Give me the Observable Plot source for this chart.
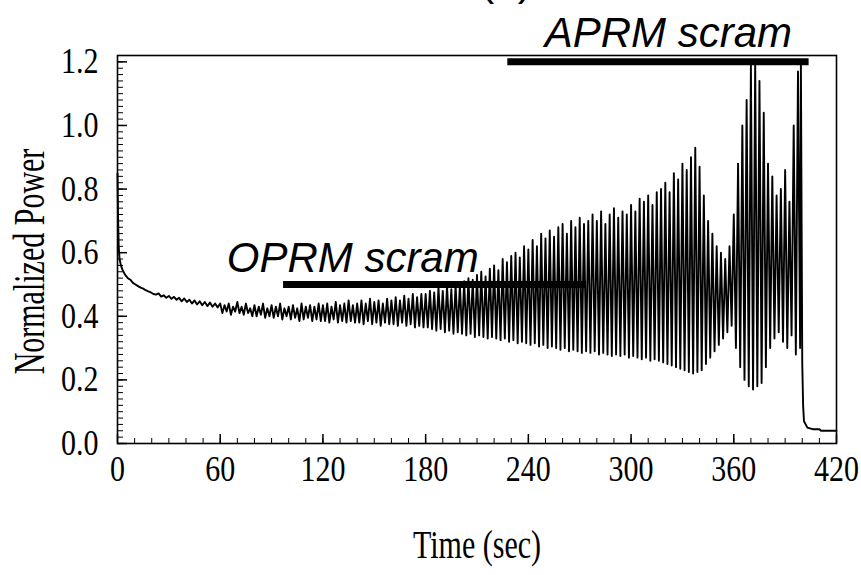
<!DOCTYPE html>
<html>
<head>
<meta charset="utf-8">
<script src="https://cdn.jsdelivr.net/npm/d3@7"></script>
<script src="https://cdn.jsdelivr.net/npm/@observablehq/plot@0.6"></script>
<style>
  html, body { margin: 0; padding: 0; background: #fff; }
  #chart { width: 861px; height: 575px; overflow: hidden; }
</style>
</head>
<body>
<div id="chart"></div>
<script>
// ---- Data ----
// Initial decay (0 - 60 s)
const decayTime = [0, 0.3, 0.7, 1.2, 2, 3, 4.5, 6, 7.5, 9, 10.5, 12, 13.5, 15, 16.5, 18, 19.5, 21, 22.5, 24,
  25.5, 27, 28.5, 30, 31.5, 33, 34.5, 36, 37.5, 39, 40.5, 42, 43.5, 45, 46.5, 48, 49.5, 51, 52.5, 54,
  55.5, 57, 58.5];
const decayPower = [0.85, 0.72, 0.62, 0.58, 0.56, 0.545, 0.53, 0.52, 0.515, 0.505, 0.50, 0.495, 0.49, 0.487,
  0.482, 0.478, 0.475, 0.47, 0.468, 0.472, 0.462, 0.466, 0.458, 0.464, 0.455, 0.461, 0.452, 0.458, 0.447,
  0.456, 0.445, 0.452, 0.44, 0.45, 0.437, 0.447, 0.435, 0.445, 0.432, 0.443, 0.43, 0.44, 0.428];

// Oscillation (60 - 398.75 s), sampled every 1.25 s: alternating crest / trough
const oscStart = 60, oscStep = 1.25;
const oscPower = [
  0.44,0.41,0.435,0.415,0.44,0.405,0.43,0.415,0.445,0.41,0.43,0.405,0.44,0.41,0.425,0.40,
  0.435,0.40,0.43,0.405,0.44,0.395,0.425,0.40,0.435,0.395,0.43,0.40,0.44,0.39,0.425,0.40,
  0.43,0.39,0.435,0.395,0.425,0.385,0.44,0.39,0.43,0.395,0.435,0.385,0.43,0.39,0.44,0.385,
  0.435,0.385,0.44,0.38,0.43,0.39,0.445,0.38,0.435,0.385,0.44,0.38,0.45,0.385,0.435,0.38,
  0.44,0.38,0.45,0.375,0.44,0.385,0.455,0.375,0.445,0.38,0.45,0.37,0.44,0.38,0.455,0.375,
  0.45,0.375,0.46,0.37,0.45,0.38,0.465,0.37,0.455,0.375,0.47,0.365,0.46,0.37,0.47,0.365,
  0.47,0.365,0.48,0.36,0.475,0.355,0.49,0.36,0.48,0.35,0.495,0.355,0.485,0.345,0.50,0.35,
  0.50,0.345,0.51,0.34,0.52,0.345,0.515,0.335,0.53,0.34,0.54,0.335,0.525,0.33,0.55,0.335,
  0.56,0.33,0.545,0.325,0.58,0.33,0.57,0.32,0.59,0.325,0.60,0.315,0.585,0.32,0.62,0.315,
  0.61,0.31,0.64,0.315,0.62,0.305,0.66,0.31,0.645,0.30,0.67,0.305,0.65,0.30,0.68,0.295,
  0.69,0.30,0.66,0.29,0.70,0.295,0.68,0.29,0.71,0.285,0.69,0.29,0.70,0.285,0.72,0.29,
  0.70,0.28,0.73,0.285,0.69,0.28,0.72,0.275,0.74,0.28,0.71,0.275,0.73,0.28,0.72,0.27,
  0.75,0.275,0.73,0.27,0.77,0.265,0.76,0.27,0.78,0.26,0.75,0.265,0.79,0.26,0.80,0.255,
  0.82,0.25,0.79,0.245,0.85,0.24,0.83,0.235,0.88,0.23,0.86,0.225,0.90,0.22,0.93,0.225,
  0.87,0.23,0.78,0.25,0.70,0.27,0.66,0.29,0.62,0.31,0.60,0.33,0.58,0.35,0.62,0.37,
  0.72,0.30,0.88,0.24,1.00,0.20,1.08,0.18,1.19,0.17,1.20,0.18,1.14,0.19,1.04,0.24,
  0.88,0.30,0.84,0.33,0.78,0.35,0.80,0.32,0.86,0.30,0.76,0.34,1.00,0.28,1.17,0.30
];

// Final spike and scram (399 - 420 s)
const tailTime = [399.2, 400, 400.5, 401, 403, 406, 410, 411, 420];
const tailPower = [1.20, 0.25, 0.12, 0.07, 0.05, 0.045, 0.045, 0.04, 0.04];

// Axes
const xTicks = [0, 60, 120, 180, 240, 300, 360, 420];
const yTicks = [0, 0.2, 0.4, 0.6, 0.8, 1.0, 1.2];
const xTitle = "Time (sec)";
const yTitle = "Normalized Power";
const panelTitle = "(a)";

// Scram annotations
const scramLabel = ["OPRM scram", "APRM scram"];
const scramLevel = [0.5, 1.2];
const scramStart = [97, 228];
const scramEnd = [274, 404];
const scramLabelX = [211, 394];
const scramLabelY = [0.538, 1.247];

// ---- Build tables ----
const series = [];
decayTime.forEach((t, i) => series.push({t, p: decayPower[i]}));
oscPower.forEach((p, i) => series.push({t: oscStart + i * oscStep, p}));
tailTime.forEach((t, i) => series.push({t, p: tailPower[i]}));

const scrams = scramLabel.map((label, i) => ({
  label, level: scramLevel[i], start: scramStart[i], end: scramEnd[i],
  lx: scramLabelX[i], ly: scramLabelY[i]
}));

const xMinor = d3.range(0, 421, 10);
const yMinor = d3.range(0, 61).map(i => i * 0.02);

const serif = "'Liberation Serif', 'Times New Roman', serif";
const sans = "'Liberation Sans', Arial, sans-serif";

const chart = Plot.plot({
  width: 861,
  height: 575,
  marginTop: 55,
  marginRight: 25,
  marginBottom: 132,
  marginLeft: 117,
  style: {fontFamily: serif, fontSize: "30px", background: "white", color: "black", overflow: "visible"},
  x: {domain: [0, 420]},
  y: {domain: [0, 1.22]},
  marks: [
    Plot.ruleX(xMinor, {x: d => d, y1: 0, y2: 0, insetBottom: 5, stroke: "black", strokeWidth: 1}),
    Plot.ruleX(xTicks, {x: d => d, y1: 0, y2: 0, insetBottom: 9, stroke: "black", strokeWidth: 1.5}),
    Plot.ruleY(yMinor, {y: d => d, x1: 0, x2: 0, insetLeft: 6, stroke: "black", strokeWidth: 1}),
    Plot.ruleY(yTicks, {y: d => d, x1: 0, x2: 0, insetLeft: 10, stroke: "black", strokeWidth: 1.5}),
    Plot.axisX({ticks: xTicks, tickSize: 0, tickPadding: 12, label: null, fontSize: 30,
      fontFamily: serif, tickFormat: d => String(d)}),
    Plot.axisY({ticks: yTicks, tickSize: 0, tickPadding: 19, label: null, fontSize: 30,
      fontFamily: serif, tickFormat: d => d.toFixed(1)}),
    Plot.line(series, {x: "t", y: "p", stroke: "black", strokeWidth: 1.9}),
    Plot.ruleY(scrams, {y: "level", x1: "start", x2: "end", stroke: "black", strokeWidth: 7}),
    Plot.text(scrams, {x: "lx", y: "ly", text: "label", textAnchor: "end", lineAnchor: "bottom",
      fontFamily: sans, fontStyle: "italic", fontSize: 42, fill: "black"}),
    Plot.frame({stroke: "black", strokeWidth: 1.6}),
    Plot.text([yTitle], {frameAnchor: "left", dx: -88, dy: 12, rotate: -90, textAnchor: "middle",
      lineAnchor: "middle", fontSize: 30, fontFamily: serif, fill: "black"}),
    Plot.text([xTitle], {frameAnchor: "bottom", dy: 102, lineAnchor: "middle", fontSize: 30,
      fontFamily: serif, fill: "black"}),
    Plot.text([panelTitle], {frameAnchor: "top", dx: 29, dy: -61, lineAnchor: "bottom", fontSize: 42,
      fontFamily: sans, fill: "black"})
  ]
});

// Taller, condensed look of the scanned serif lettering: stretch serif texts vertically
function stretchEl(el, k) {
  const tr = el.getAttribute("transform");
  if (tr) {
    el.setAttribute("transform", tr + ` scale(1,${k})`);
  } else {
    const x = +(el.getAttribute("x") || 0), y = +(el.getAttribute("y") || 0);
    el.removeAttribute("x"); el.removeAttribute("y");
    el.setAttribute("transform", `translate(${x},${y}) scale(1,${k})`);
  }
}
const tickTexts = new Set([...xTicks.map(String), ...yTicks.map(d => d.toFixed(1))]);
d3.select(chart).selectAll("text").each(function() {
  const s = this.textContent;
  if (s === yTitle) stretchEl(this, 1.5);
  else if (s === xTitle) stretchEl(this, 1.3);
  else if (tickTexts.has(s)) stretchEl(this, 1.2);
});

document.getElementById("chart").appendChild(chart);
</script>
</body>
</html>
